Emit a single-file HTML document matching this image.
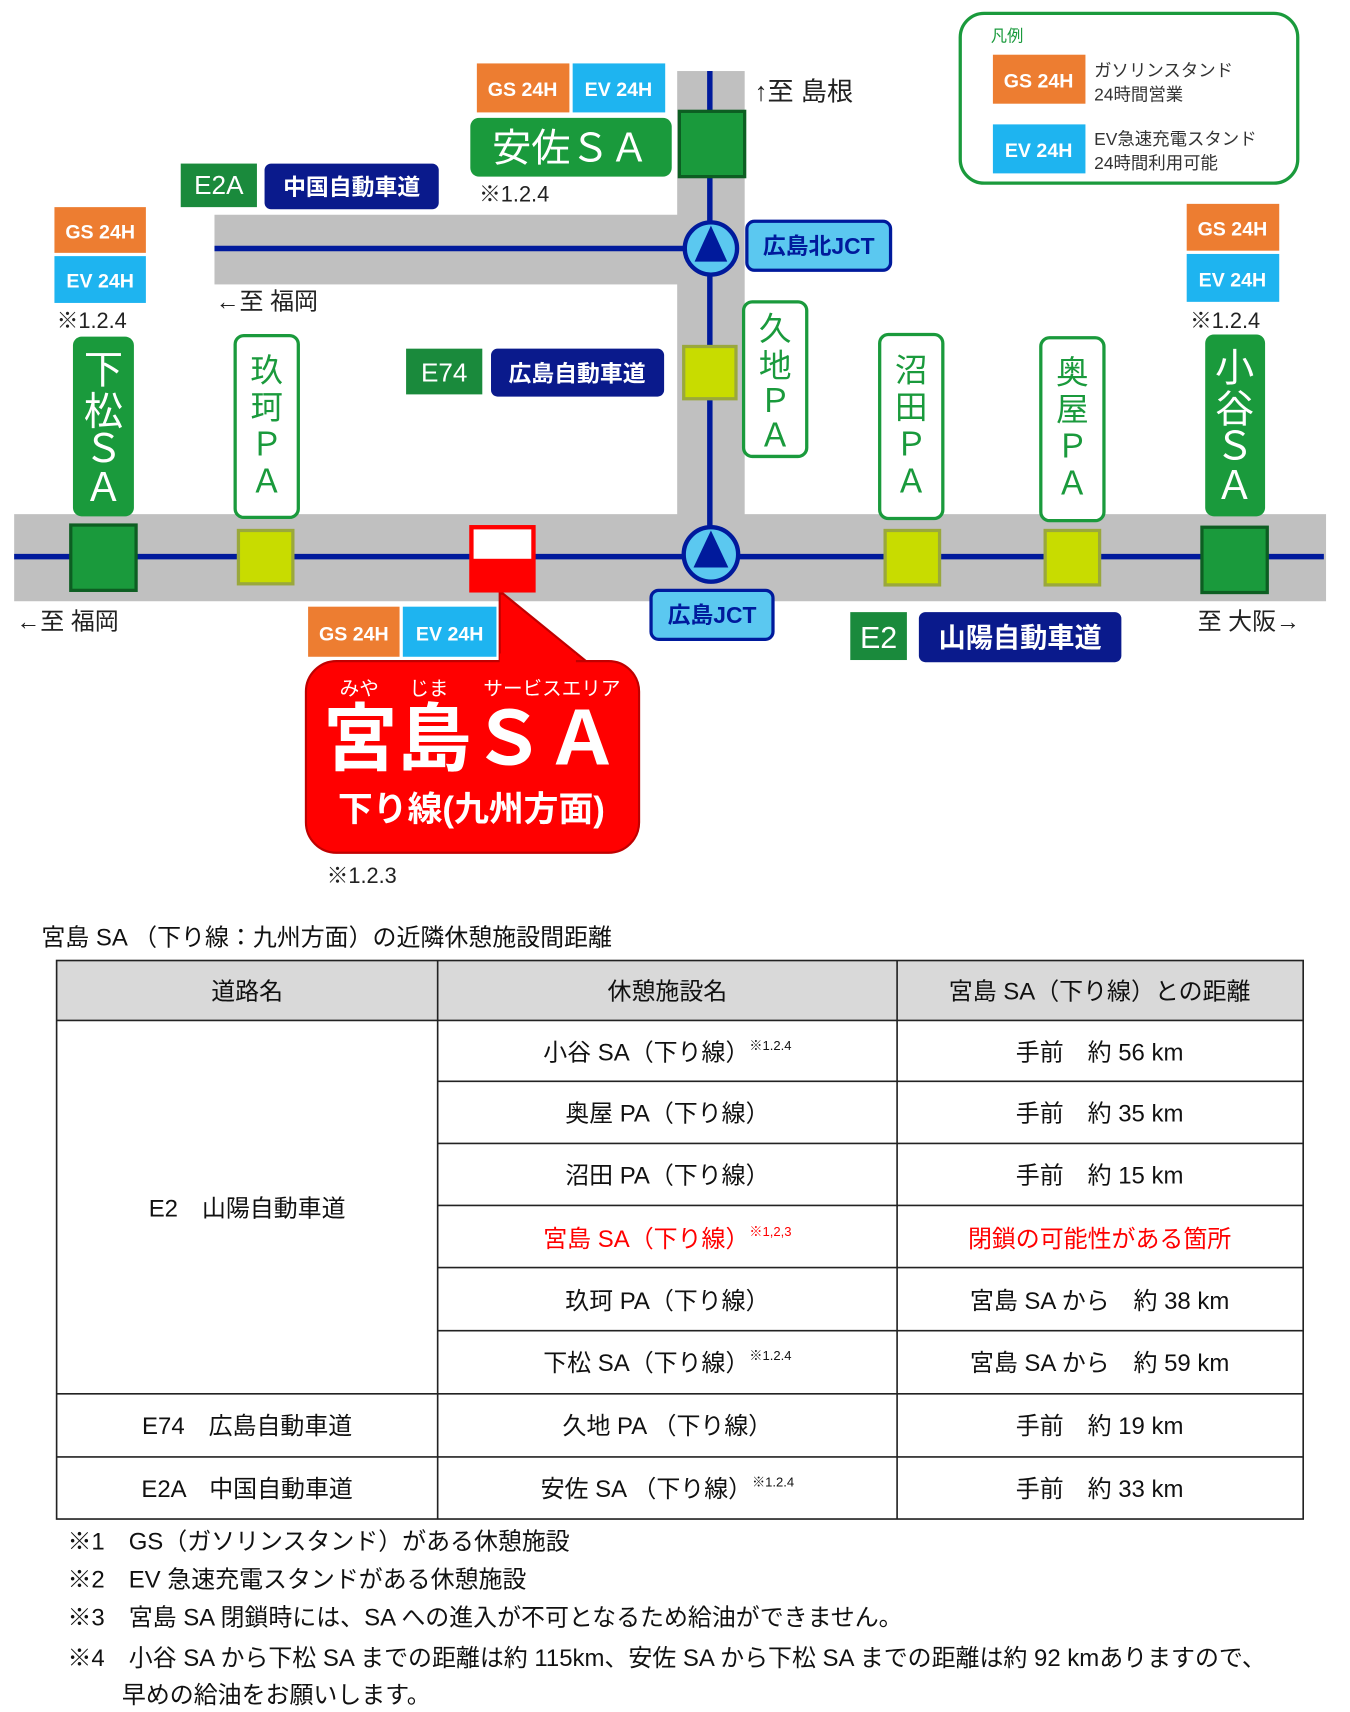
<!DOCTYPE html>
<html><head><meta charset="utf-8"><style>
html,body{margin:0;padding:0;background:#fff;}
svg{display:block;}
text{font-family:"Liberation Sans","Noto Sans CJK JP",sans-serif;}
</style></head><body>
<svg width="1350" height="1712" viewBox="0 0 1240 1572" xmlns="http://www.w3.org/2000/svg">
<rect width="1240" height="1572" fill="#fff"/>
<!-- roads -->
<rect x="13" y="472" width="1205" height="80" fill="#c0c0c0"/>
<rect x="622" y="65" width="62" height="410" fill="#c0c0c0"/>
<rect x="197" y="197" width="430" height="64" fill="#c0c0c0"/>
<line x1="13" y1="511" x2="1216" y2="511" stroke="#001a9c" stroke-width="5"/>
<line x1="652" y1="65" x2="652" y2="511" stroke="#001a9c" stroke-width="5"/>
<line x1="197" y1="228" x2="652" y2="228" stroke="#001a9c" stroke-width="5"/>

<!-- legend -->
<rect x="882" y="12" width="310" height="156" rx="22" fill="#fff" stroke="#1a9a3c" stroke-width="3"/>
<text x="910" y="38" font-size="15" fill="#1a9a3c">凡例</text>
<rect x="912" y="50" width="85" height="45" fill="#ed7d31"/>
<text x="954" y="80" font-size="18" font-weight="bold" fill="#fff" text-anchor="middle">GS 24H</text>
<text x="1005" y="70" font-size="16" fill="#333">ガソリンスタンド</text>
<text x="1005" y="92" font-size="16" fill="#333">24時間営業</text>
<rect x="912" y="114" width="85" height="45" fill="#1eb4f0"/>
<text x="954" y="144" font-size="18" font-weight="bold" fill="#fff" text-anchor="middle">EV 24H</text>
<text x="1005" y="133" font-size="16" fill="#333">EV急速充電スタンド</text>
<text x="1005" y="155" font-size="16" fill="#333">24時間利用可能</text>

<!-- Anza SA -->
<rect x="438" y="58" width="85" height="45" fill="#ed7d31"/>
<text x="480" y="88" font-size="18" font-weight="bold" fill="#fff" text-anchor="middle">GS 24H</text>
<rect x="526" y="58" width="85" height="45" fill="#1eb4f0"/>
<text x="568" y="88" font-size="18" font-weight="bold" fill="#fff" text-anchor="middle">EV 24H</text>
<rect x="432" y="108" width="185" height="54" rx="8" fill="#1a9a3c"/>
<text x="524" y="148" font-size="36" fill="#fff" text-anchor="middle">安佐ＳＡ</text>
<rect x="624" y="102" width="60" height="60" fill="#1a9a3c" stroke="#0d5e22" stroke-width="3"/>
<text x="440" y="185" font-size="20" fill="#222">※1.2.4</text>
<text x="693" y="92" font-size="24" fill="#222">↑至 島根</text>

<!-- E2A -->
<rect x="166" y="150" width="70" height="40" fill="#1a8a3c"/>
<text x="201" y="178" font-size="24" fill="#fff" text-anchor="middle">E2A</text>
<rect x="243" y="150" width="160" height="42" rx="6" fill="#0a1a8c"/>
<text x="323" y="179" font-size="21" font-weight="bold" fill="#fff" text-anchor="middle">中国自動車道</text>

<!-- North JCT -->
<circle cx="653" cy="228" r="24" fill="#5bc8f0" stroke="#001a9c" stroke-width="4"/>
<polygon points="653,207 638,240 668,240" fill="#001a9c"/>
<rect x="686" y="203" width="132" height="45" rx="7" fill="#5bc8f0" stroke="#001a9c" stroke-width="3"/>
<text x="752" y="233" font-size="21" font-weight="bold" fill="#001a9c" text-anchor="middle">広島北JCT</text>
<text x="198" y="284" font-size="22" fill="#222">←至 福岡</text>

<!-- left GS/EV -->
<rect x="50" y="190" width="84" height="42" fill="#ed7d31"/>
<text x="92" y="219" font-size="18" font-weight="bold" fill="#fff" text-anchor="middle">GS 24H</text>
<rect x="50" y="235" width="84" height="43" fill="#1eb4f0"/>
<text x="92" y="264" font-size="18" font-weight="bold" fill="#fff" text-anchor="middle">EV 24H</text>
<text x="52" y="301" font-size="20" fill="#222">※1.2.4</text>

<!-- right GS/EV -->
<rect x="1090" y="187" width="85" height="43" fill="#ed7d31"/>
<text x="1132" y="216" font-size="18" font-weight="bold" fill="#fff" text-anchor="middle">GS 24H</text>
<rect x="1090" y="233" width="85" height="44" fill="#1eb4f0"/>
<text x="1132" y="263" font-size="18" font-weight="bold" fill="#fff" text-anchor="middle">EV 24H</text>
<text x="1093" y="301" font-size="20" fill="#222">※1.2.4</text>

<!-- vertical labels -->
<rect x="67" y="309" width="56" height="165" rx="8" fill="#1a9a3c"/>
<text font-size="36" fill="#fff" text-anchor="middle"><tspan x="95" y="352">下</tspan><tspan x="95" y="390">松</tspan><tspan x="95" y="424">Ｓ</tspan><tspan x="95" y="460">Ａ</tspan></text>
<rect x="1107" y="307" width="55" height="167" rx="8" fill="#1a9a3c"/>
<text font-size="36" fill="#fff" text-anchor="middle"><tspan x="1134" y="350">小</tspan><tspan x="1134" y="388">谷</tspan><tspan x="1134" y="422">Ｓ</tspan><tspan x="1134" y="458">Ａ</tspan></text>

<rect x="216" y="308" width="58" height="167" rx="8" fill="#fff" stroke="#1a9a3c" stroke-width="3"/>
<text font-size="30" fill="#1a9a3c" text-anchor="middle"><tspan x="245" y="350">玖</tspan><tspan x="245" y="384">珂</tspan><tspan x="245" y="418">Ｐ</tspan><tspan x="245" y="452">Ａ</tspan></text>
<rect x="683" y="277" width="58" height="142" rx="8" fill="#fff" stroke="#1a9a3c" stroke-width="3"/>
<text font-size="30" fill="#1a9a3c" text-anchor="middle"><tspan x="712" y="312">久</tspan><tspan x="712" y="346">地</tspan><tspan x="712" y="378">Ｐ</tspan><tspan x="712" y="410">Ａ</tspan></text>
<rect x="808" y="307" width="58" height="169" rx="8" fill="#fff" stroke="#1a9a3c" stroke-width="3"/>
<text font-size="30" fill="#1a9a3c" text-anchor="middle"><tspan x="837" y="350">沼</tspan><tspan x="837" y="384">田</tspan><tspan x="837" y="418">Ｐ</tspan><tspan x="837" y="452">Ａ</tspan></text>
<rect x="956" y="310" width="58" height="168" rx="8" fill="#fff" stroke="#1a9a3c" stroke-width="3"/>
<text font-size="30" fill="#1a9a3c" text-anchor="middle"><tspan x="985" y="352">奥</tspan><tspan x="985" y="386">屋</tspan><tspan x="985" y="420">Ｐ</tspan><tspan x="985" y="454">Ａ</tspan></text>

<!-- E74 -->
<rect x="373" y="320" width="70" height="42" fill="#1a8a3c"/>
<text x="408" y="350" font-size="24" fill="#fff" text-anchor="middle">E74</text>
<rect x="451" y="320" width="159" height="44" rx="6" fill="#0a1a8c"/>
<text x="530" y="350" font-size="21" font-weight="bold" fill="#fff" text-anchor="middle">広島自動車道</text>
<rect x="628" y="318" width="48" height="48" fill="#c8dc00" stroke="#9aa83c" stroke-width="3"/>

<!-- main road nodes -->
<rect x="65" y="482" width="60" height="60" fill="#1a9a3c" stroke="#0d5e22" stroke-width="3"/>
<rect x="219" y="487" width="50" height="49" fill="#c8dc00" stroke="#9aa83c" stroke-width="3"/>
<rect x="813" y="487" width="50" height="50" fill="#c8dc00" stroke="#9aa83c" stroke-width="3"/>
<rect x="960" y="487" width="50" height="50" fill="#c8dc00" stroke="#9aa83c" stroke-width="3"/>
<rect x="1104" y="484" width="60" height="60" fill="#1a9a3c" stroke="#0d5e22" stroke-width="3"/>
<circle cx="653" cy="509" r="25" fill="#5bc8f0" stroke="#001a9c" stroke-width="4"/>
<polygon points="653,487 637,521 669,521" fill="#001a9c"/>
<rect x="598" y="542" width="112" height="45" rx="7" fill="#5bc8f0" stroke="#001a9c" stroke-width="3"/>
<text x="654" y="572" font-size="21" font-weight="bold" fill="#001a9c" text-anchor="middle">広島JCT</text>
<text x="15" y="578" font-size="22" fill="#222">←至 福岡</text>
<text x="1100" y="578" font-size="22" fill="#222">至 大阪→</text>
<rect x="781" y="562" width="52" height="44" fill="#1a8a3c"/>
<text x="807" y="595" font-size="28" fill="#fff" text-anchor="middle">E2</text>
<rect x="844" y="562" width="186" height="46" rx="6" fill="#0a1a8c"/>
<text x="937" y="594" font-size="25" font-weight="bold" fill="#fff" text-anchor="middle">山陽自動車道</text>

<!-- Miyajima callout -->
<rect x="283" y="557" width="84" height="46" fill="#ed7d31"/>
<text x="325" y="588" font-size="18" font-weight="bold" fill="#fff" text-anchor="middle">GS 24H</text>
<rect x="370" y="557" width="86" height="46" fill="#1eb4f0"/>
<text x="413" y="588" font-size="18" font-weight="bold" fill="#fff" text-anchor="middle">EV 24H</text>
<path d="M459,545 L462,545 L542,610 L459,610 Z" fill="#f00" stroke="#c00000" stroke-width="2"/>
<rect x="281" y="607" width="306" height="176" rx="28" fill="#f00" stroke="#c00000" stroke-width="2"/>
<rect x="459" y="600" width="70" height="14" fill="#f00"/>
<rect x="431" y="482" width="61" height="62" fill="#f00"/>
<rect x="435" y="486" width="53" height="27" fill="#fff"/>
<text font-size="18" fill="#fff"><tspan x="312" y="638">みや</tspan><tspan x="376" y="638">じま</tspan><tspan x="444" y="638">サービスエリア</tspan></text>
<text x="433" y="702" font-size="68" font-weight="bold" fill="#fff" text-anchor="middle">宮島ＳＡ</text>
<text x="433" y="754" font-size="32" font-weight="bold" fill="#fff" text-anchor="middle">下り線(九州方面)</text>
<text x="300" y="811" font-size="20" fill="#222">※1.2.3</text>

<!-- table -->
<text x="38" y="868" font-size="22" fill="#111">宮島 SA （下り線：九州方面）の近隣休憩施設間距離</text>
<rect x="52" y="882" width="1145" height="55" fill="#d9d9d9"/>
<g stroke="#222" stroke-width="1.5" fill="none">
<rect x="52" y="882" width="1145" height="513"/>
<line x1="402" y1="882" x2="402" y2="1395"/>
<line x1="824" y1="882" x2="824" y2="1395"/>
<line x1="52" y1="937" x2="1197" y2="937"/>
<line x1="402" y1="993" x2="1197" y2="993"/>
<line x1="402" y1="1050" x2="1197" y2="1050"/>
<line x1="402" y1="1107" x2="1197" y2="1107"/>
<line x1="402" y1="1164" x2="1197" y2="1164"/>
<line x1="402" y1="1222" x2="1197" y2="1222"/>
<line x1="52" y1="1280" x2="1197" y2="1280"/>
<line x1="52" y1="1338" x2="1197" y2="1338"/>
</g>
<g font-size="22" fill="#111" text-anchor="middle">
<text x="227" y="918">道路名</text>
<text x="613" y="918">休憩施設名</text>
<text x="1010" y="918">宮島 SA（下り線）との距離</text>
<text x="613" y="974">小谷 SA（下り線）<tspan font-size="12" dy="-10">※1.2.4</tspan></text>
<text x="1010" y="974">手前　約 56 km</text>
<text x="613" y="1030">奥屋 PA（下り線）</text>
<text x="1010" y="1030">手前　約 35 km</text>
<text x="613" y="1087">沼田 PA（下り線）</text>
<text x="1010" y="1087">手前　約 15 km</text>
<text x="613" y="1145" fill="#f00">宮島 SA（下り線）<tspan font-size="12" dy="-10">※1,2,3</tspan></text>
<text x="1010" y="1145" fill="#f00">閉鎖の可能性がある箇所</text>
<text x="613" y="1202">玖珂 PA（下り線）</text>
<text x="1010" y="1202">宮島 SA から　約 38 km</text>
<text x="613" y="1259">下松 SA（下り線）<tspan font-size="12" dy="-10">※1.2.4</tspan></text>
<text x="1010" y="1259">宮島 SA から　約 59 km</text>
<text x="227" y="1117">E2　山陽自動車道</text>
<text x="227" y="1317">E74　広島自動車道</text>
<text x="613" y="1317">久地 PA （下り線）</text>
<text x="1010" y="1317">手前　約 19 km</text>
<text x="227" y="1375">E2A　中国自動車道</text>
<text x="613" y="1375">安佐 SA （下り線）<tspan font-size="12" dy="-10">※1.2.4</tspan></text>
<text x="1010" y="1375">手前　約 33 km</text>
</g>
<g font-size="22" fill="#111">
<text x="62" y="1423">※1　GS（ガソリンスタンド）がある休憩施設</text>
<text x="62" y="1458">※2　EV 急速充電スタンドがある休憩施設</text>
<text x="62" y="1493">※3　宮島 SA 閉鎖時には、SA への進入が不可となるため給油ができません。</text>
<text x="62" y="1530">※4　小谷 SA から下松 SA までの距離は約 115km、安佐 SA から下松 SA までの距離は約 92 kmありますので、</text>
<text x="112" y="1564">早めの給油をお願いします。</text>
</g>
</svg>
</body></html>
